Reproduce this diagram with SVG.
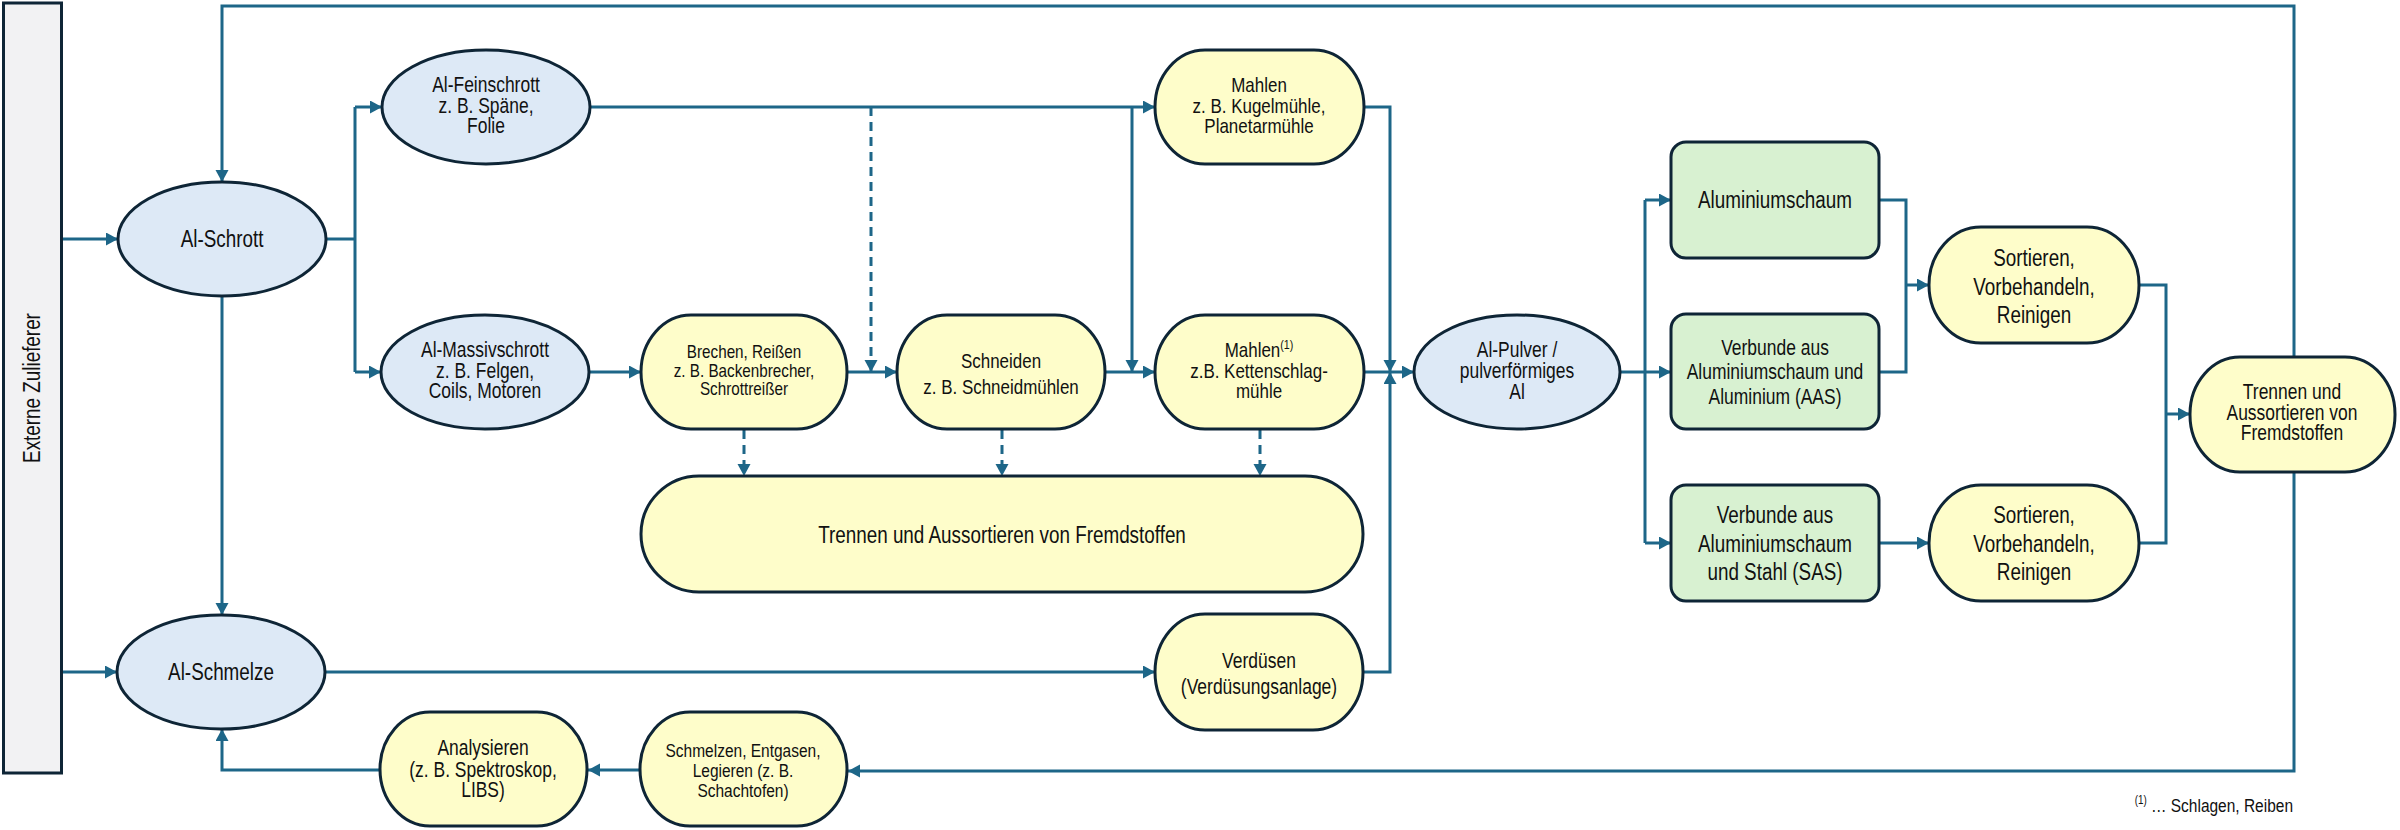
<svg xmlns="http://www.w3.org/2000/svg" width="2400" height="830" viewBox="0 0 2400 830">
<defs>
<style>
.n{stroke:#0e2536;stroke-width:3}
.b{fill:#dde9f6}
.y{fill:#fefdca}
.g{fill:#d8f1d1}
.c{fill:none;stroke:#1d6688;stroke-width:3}
.d{stroke-dasharray:9,6}
text{font-family:"Liberation Sans",Arial,sans-serif;fill:#111;text-anchor:middle}
.f19{font-size:23px}
.f17{font-size:21.3px}
.f16{font-size:20.7px}
.f15{font-size:18.9px}
.f14{font-size:18.6px}
</style>
<marker id="ah" markerUnits="userSpaceOnUse" markerWidth="14" markerHeight="14" refX="12" refY="6.5" orient="auto">
<path d="M0,0 L12,6.5 L0,13 Z" fill="#1d6688"/>
</marker>
</defs>
<rect width="2400" height="830" fill="#fff"/>

<g id="connectors">
<path class="c" d="M2294 357 V6 H222 V182" marker-end="url(#ah)"/>
<path class="c" d="M2294 472 V771 H848" marker-end="url(#ah)"/>
<path class="c" d="M62 239 H118" marker-end="url(#ah)"/>
<path class="c" d="M62 672 H117" marker-end="url(#ah)"/>
<path class="c" d="M326 239 H355"/>
<path class="c" d="M355 107 V372"/>
<path class="c" d="M355 107 H382" marker-end="url(#ah)"/>
<path class="c" d="M355 372 H381" marker-end="url(#ah)"/>
<path class="c" d="M222 296 V615" marker-end="url(#ah)"/>
<path class="c" d="M590 107 H1155" marker-end="url(#ah)"/>
<path class="c d" d="M871 107 V372" marker-end="url(#ah)"/>
<path class="c" d="M1132 107 V372" marker-end="url(#ah)"/>
<path class="c" d="M589 372 H641" marker-end="url(#ah)"/>
<path class="c" d="M847 372 H897" marker-end="url(#ah)"/>
<path class="c" d="M1105 372 H1155" marker-end="url(#ah)"/>
<path class="c" d="M1364 107 H1390 V372" marker-end="url(#ah)"/>
<path class="c" d="M1363 672 H1390 V372" marker-end="url(#ah)"/>
<path class="c" d="M1364 372 H1414" marker-end="url(#ah)"/>
<path class="c" d="M324 672 H1155" marker-end="url(#ah)"/>
<path class="c d" d="M744 430 V476" marker-end="url(#ah)"/>
<path class="c d" d="M1002 430 V476" marker-end="url(#ah)"/>
<path class="c d" d="M1260 430 V476" marker-end="url(#ah)"/>
<path class="c" d="M380 770 H222 V729" marker-end="url(#ah)"/>
<path class="c" d="M640 770 H588" marker-end="url(#ah)"/>
<path class="c" d="M1620 372 H1645"/>
<path class="c" d="M1645 200 V543"/>
<path class="c" d="M1645 200 H1671" marker-end="url(#ah)"/>
<path class="c" d="M1645 372 H1671" marker-end="url(#ah)"/>
<path class="c" d="M1645 543 H1671" marker-end="url(#ah)"/>
<path class="c" d="M1879 200 H1906 V372 H1879"/>
<path class="c" d="M1906 285 H1929" marker-end="url(#ah)"/>
<path class="c" d="M1879 543 H1929" marker-end="url(#ah)"/>
<path class="c" d="M2139 285 H2166 V543 H2139"/>
<path class="c" d="M2166 414 H2190" marker-end="url(#ah)"/>
</g>

<g id="externe-zulieferer">
<rect x="3.5" y="3" width="58" height="770" fill="#f2f2f3" class="n"/>
<text class="f19" transform="translate(40 388) rotate(-90) scale(0.82 1)">Externe Zulieferer</text>
</g>

<g id="al-schrott">
<ellipse cx="222" cy="239" rx="104" ry="57" class="n b"/>
<g transform="translate(222 0) scale(0.82 1)">
<text class="f19" x="0" y="247">Al-Schrott</text>
</g>
</g>

<g id="al-feinschrott">
<ellipse cx="486" cy="107" rx="104" ry="57" class="n b"/>
<g transform="translate(486 0) scale(0.82 1)">
<text class="f17" x="0" y="92">Al-Feinschrott</text>
<text class="f17" x="0" y="113">z. B. Späne,</text>
<text class="f17" x="0" y="133">Folie</text>
</g>
</g>

<g id="al-massivschrott">
<ellipse cx="485" cy="372" rx="104" ry="57" class="n b"/>
<g transform="translate(485 0) scale(0.82 1)">
<text class="f17" x="0" y="357">Al-Massivschrott</text>
<text class="f17" x="0" y="378">z. B. Felgen,</text>
<text class="f17" x="0" y="398">Coils, Motoren</text>
</g>
</g>

<g id="brechen">
<rect x="641" y="315" width="206" height="114" rx="50" ry="57" class="n y"/>
<g transform="translate(744 0) scale(0.82 1)">
<text class="f14" x="0" y="358">Brechen, Reißen</text>
<text class="f14" x="0" y="377">z. B. Backenbrecher,</text>
<text class="f14" x="0" y="395">Schrottreißer</text>
</g>
</g>

<g id="schneiden">
<rect x="897" y="315" width="208" height="114" rx="50" ry="57" class="n y"/>
<g transform="translate(1001 0) scale(0.82 1)">
<text class="f16" x="0" y="368">Schneiden</text>
<text class="f16" x="0" y="394">z. B. Schneidmühlen</text>
</g>
</g>

<g id="mahlen-kette">
<rect x="1155" y="315" width="209" height="114" rx="50" ry="57" class="n y"/>
<g transform="translate(1259 0) scale(0.82 1)">
<text class="f16" x="0" y="357">Mahlen<tspan font-size="13" dy="-8">(1)</tspan></text>
<text class="f16" x="0" y="378">z.B. Kettenschlag-</text>
<text class="f16" x="0" y="398">mühle</text>
</g>
</g>

<g id="mahlen-kugel">
<rect x="1155" y="50" width="209" height="114" rx="50" ry="57" class="n y"/>
<g transform="translate(1259 0) scale(0.82 1)">
<text class="f16" x="0" y="92">Mahlen</text>
<text class="f16" x="0" y="113">z. B. Kugelmühle,</text>
<text class="f16" x="0" y="133">Planetarmühle</text>
</g>
</g>

<g id="trennen-mitte">
<rect x="641" y="476" width="722" height="116" rx="58" ry="58" class="n y"/>
<g transform="translate(1002 0) scale(0.82 1)">
<text class="f19" x="0" y="543">Trennen und Aussortieren von Fremdstoffen</text>
</g>
</g>

<g id="verduesen">
<rect x="1155" y="614" width="208" height="116" rx="50" ry="58" class="n y"/>
<g transform="translate(1259 0) scale(0.82 1)">
<text class="f17" x="0" y="668">Verdüsen</text>
<text class="f17" x="0" y="694">(Verdüsungsanlage)</text>
</g>
</g>

<g id="al-schmelze">
<ellipse cx="221" cy="672" rx="104" ry="57" class="n b"/>
<g transform="translate(221 0) scale(0.82 1)">
<text class="f19" x="0" y="680">Al-Schmelze</text>
</g>
</g>

<g id="analysieren">
<rect x="380" y="712" width="207" height="114" rx="50" ry="57" class="n y"/>
<g transform="translate(483 0) scale(0.82 1)">
<text class="f17" x="0" y="755">Analysieren</text>
<text class="f17" x="0" y="777">(z. B. Spektroskop,</text>
<text class="f17" x="0" y="797">LIBS)</text>
</g>
</g>

<g id="schmelzen">
<rect x="640" y="712" width="207" height="114" rx="50" ry="57" class="n y"/>
<g transform="translate(743 0) scale(0.82 1)">
<text class="f15" x="0" y="757">Schmelzen, Entgasen,</text>
<text class="f15" x="0" y="777">Legieren (z. B.</text>
<text class="f15" x="0" y="797">Schachtofen)</text>
</g>
</g>

<g id="al-pulver">
<ellipse cx="1517" cy="372" rx="103" ry="57" class="n b"/>
<g transform="translate(1517 0) scale(0.82 1)">
<text class="f17" x="0" y="357">Al-Pulver /</text>
<text class="f17" x="0" y="378">pulverförmiges</text>
<text class="f17" x="0" y="399">Al</text>
</g>
</g>

<g id="aluminiumschaum">
<rect x="1671" y="142" width="208" height="116" rx="15" class="n g"/>
<g transform="translate(1775 0) scale(0.82 1)">
<text class="f19" x="0" y="208">Aluminiumschaum</text>
</g>
</g>

<g id="aas">
<rect x="1671" y="314" width="208" height="115" rx="15" class="n g"/>
<g transform="translate(1775 0) scale(0.82 1)">
<text class="f17" x="0" y="355">Verbunde aus</text>
<text class="f17" x="0" y="379">Aluminiumschaum und</text>
<text class="f17" x="0" y="404">Aluminium (AAS)</text>
</g>
</g>

<g id="sas">
<rect x="1671" y="485" width="208" height="116" rx="15" class="n g"/>
<g transform="translate(1775 0) scale(0.82 1)">
<text class="f19" x="0" y="523">Verbunde aus</text>
<text class="f19" x="0" y="552">Aluminiumschaum</text>
<text class="f19" x="0" y="580">und Stahl (SAS)</text>
</g>
</g>

<g id="sortieren-1">
<rect x="1929" y="227" width="210" height="116" rx="52" ry="58" class="n y"/>
<g transform="translate(2034 0) scale(0.82 1)">
<text class="f19" x="0" y="266">Sortieren,</text>
<text class="f19" x="0" y="295">Vorbehandeln,</text>
<text class="f19" x="0" y="323">Reinigen</text>
</g>
</g>

<g id="sortieren-2">
<rect x="1929" y="485" width="210" height="116" rx="52" ry="58" class="n y"/>
<g transform="translate(2034 0) scale(0.82 1)">
<text class="f19" x="0" y="523">Sortieren,</text>
<text class="f19" x="0" y="552">Vorbehandeln,</text>
<text class="f19" x="0" y="580">Reinigen</text>
</g>
</g>

<g id="trennen-rechts">
<rect x="2190" y="357" width="205" height="115" rx="50" ry="57" class="n y"/>
<g transform="translate(2292 0) scale(0.82 1)">
<text class="f17" x="0" y="399">Trennen und</text>
<text class="f17" x="0" y="420">Aussortieren von</text>
<text class="f17" x="0" y="440">Fremdstoffen</text>
</g>
</g>

<g id="fussnote">
<g transform="translate(2293 0) scale(0.82 1)">
<text class="f15" x="0" y="812" style="text-anchor:end"><tspan font-size="12" dy="-8">(1)</tspan><tspan dy="8"> … Schlagen, Reiben</tspan></text>
</g>
</g>
</svg>
